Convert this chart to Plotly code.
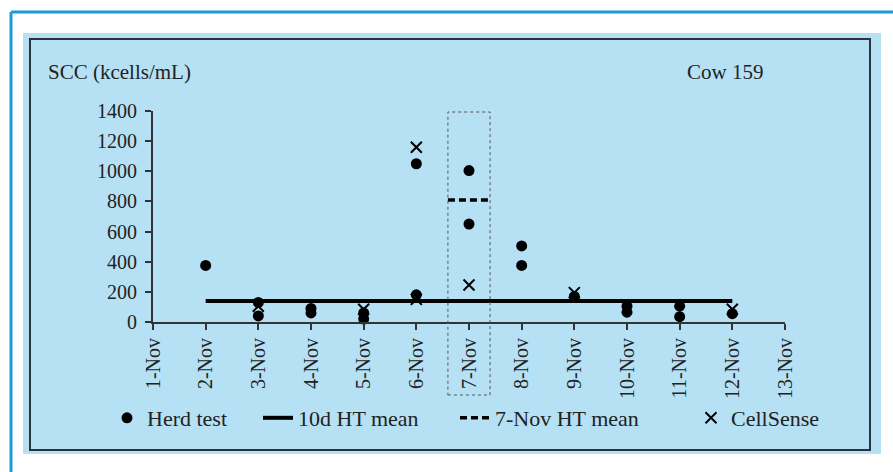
import plotly.graph_objects as go

# ---- data ----
day_labels = [f"{d}-Nov" for d in range(1, 14)]
day_values = list(range(1, 14))

herd_days = [2, 3, 3, 4, 4, 5, 5, 6, 6, 7, 7, 8, 8, 9, 10, 10, 11, 11, 12]
herd_scc = [375, 130, 40, 90, 60, 60, 20, 1050, 180, 1005, 650, 505, 375, 170, 105, 65, 105, 35, 55]

cell_days = [3, 5, 6, 6, 7, 9, 12]
cell_scc = [105, 85, 1160, 150, 245, 195, 85]

mean10_days = [2, 12]
mean10_value = 140

mean7_day = 7
mean7_value = 810
mean7_halfwidth = 0.4

y_ticks = [0, 200, 400, 600, 800, 1000, 1200, 1400]

# ---- layout geometry (pixels) ----
W, H = 893, 472
L, R, T, B = 153, 785, 111, 322


def px(x):
    return (x - L) / (R - L)


def py(y):
    return (B - y) / (B - T)


FONT = "Liberation Serif, Times New Roman, serif"
TXT = "#222222"

fig = go.Figure()

fig.add_trace(go.Scatter(
    x=herd_days, y=herd_scc, mode="markers", name="Herd test",
    marker=dict(symbol="circle", size=11, color="black"),
    cliponaxis=False, legend="legend",
))
fig.add_trace(go.Scatter(
    x=mean10_days, y=[mean10_value] * len(mean10_days), mode="lines",
    name="10d HT mean", line=dict(color="black", width=4),
    cliponaxis=False, legend="legend2",
))
fig.add_trace(go.Scatter(
    x=[mean7_day - mean7_halfwidth, mean7_day + mean7_halfwidth],
    y=[mean7_value, mean7_value], mode="lines", name="7-Nov HT mean",
    line=dict(color="black", width=3.5, dash="7px,4px"),
    cliponaxis=False, legend="legend3",
))
fig.add_trace(go.Scatter(
    x=cell_days, y=cell_scc, mode="markers", name="CellSense",
    marker=dict(symbol="x-thin", size=11, color="black",
                line=dict(color="black", width=2)),
    cliponaxis=False, legend="legend4",
))

shapes = [
    # light blue panel
    dict(type="rect", xref="paper", yref="paper", x0=px(23), x1=px(881),
         y0=py(454), y1=py(33), fillcolor="#b6e1f4", line=dict(width=0), layer="below"),
    # dark frame
    dict(type="rect", xref="paper", yref="paper", x0=px(30), x1=px(870),
         y0=py(450), y1=py(39), line=dict(color="#2a323d", width=2), layer="below"),
    # blue outer border lines
    dict(type="line", xref="paper", yref="paper", x0=px(11), x1=px(893),
         y0=py(12), y1=py(12), line=dict(color="#1a9bdb", width=3), layer="below"),
    dict(type="line", xref="paper", yref="paper", x0=px(11), x1=px(11),
         y0=py(12), y1=py(472), line=dict(color="#1a9bdb", width=3), layer="below"),
    # dotted highlight box around 7-Nov
    dict(type="rect", xref="x", yref="paper",
         x0=mean7_day - mean7_halfwidth, x1=mean7_day + mean7_halfwidth,
         y0=py(395), y1=py(112),
         line=dict(color="#555555", width=1, dash="dot"), layer="above"),
]


def legend_at(x_px):
    return dict(
        orientation="h", xref="container", yref="container",
        x=x_px / W, y=1 - 418 / H, xanchor="left", yanchor="middle",
        bgcolor="rgba(0,0,0,0)", borderwidth=0,
        font=dict(family=FONT, size=22, color=TXT),
        itemwidth=30,
    )


fig.update_layout(
    width=W, height=H,
    margin=dict(l=L, r=W - R, t=T, b=H - B, pad=0, autoexpand=False),
    paper_bgcolor="white",
    plot_bgcolor="rgba(0,0,0,0)",
    font=dict(family=FONT, size=20, color=TXT),
    shapes=shapes,
    showlegend=True,
    legend=legend_at(107),
    legend2=legend_at(258),
    legend3=legend_at(455),
    legend4=legend_at(691),
    annotations=[
        dict(text="SCC (kcells/mL)", xref="paper", yref="paper", x=px(46), y=py(72),
             xanchor="left", yanchor="middle", showarrow=False,
             font=dict(family=FONT, size=21, color=TXT)),
        dict(text="Cow 159", xref="paper", yref="paper", x=px(685), y=py(72),
             xanchor="left", yanchor="middle", showarrow=False,
             font=dict(family=FONT, size=21, color=TXT)),
    ],
)

fig.update_xaxes(
    range=[1, 13], tickmode="array", tickvals=day_values, ticktext=day_labels,
    tickangle=-90, showgrid=False, zeroline=False, automargin=False,
    showline=True, linecolor="#333333", linewidth=2,
    ticks="outside", ticklen=6, tickwidth=2, tickcolor="#333333",
    tickfont=dict(family=FONT, size=20, color=TXT),
)
fig.update_yaxes(
    range=[0, 1400], tickmode="array", tickvals=y_ticks,
    showgrid=False, zeroline=False, automargin=False,
    showline=True, linecolor="#333333", linewidth=2,
    ticks="outside", ticklen=6, tickwidth=2, tickcolor="#333333",
    ticklabelstandoff=4,
    tickfont=dict(family=FONT, size=20, color=TXT),
)

fig.write_html("out.html")
